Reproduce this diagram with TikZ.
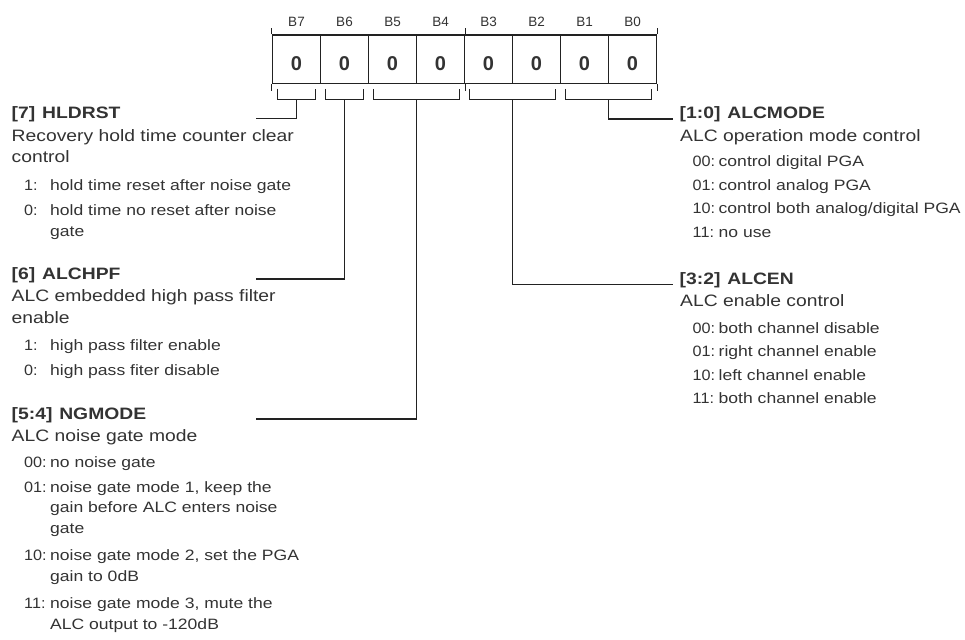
\documentclass[tikz,border=0pt]{standalone}
\usepackage{fontspec}
\newfontfamily\regf[FakeStretch=1.17]{Liberation Sans}
\newfontfamily\numf[FakeStretch=1.08]{Liberation Sans}
\newfontfamily\plainf{Liberation Sans}
\newcommand\inum[1]{\makebox[26pt][l]{\numf #1}}
\definecolor{txtc}{HTML}{333333}
\definecolor{linec}{HTML}{222222}
\begin{document}
\begin{tikzpicture}[x=1pt,y=-1pt,
  ttl/.style={anchor=base west,inner sep=0pt,text=txtc,font=\regf\bfseries\fontsize{16.5}{18}\selectfont},
  bdy/.style={anchor=base west,inner sep=0pt,text=txtc,font=\regf\fontsize{16.5}{18}\selectfont},
  itm/.style={anchor=base west,inner sep=0pt,text=txtc,font=\regf\fontsize{15}{17}\selectfont},
  bitl/.style={anchor=base,inner sep=0pt,text=txtc,font=\plainf\fontsize{13.5}{15}\selectfont},
  dig/.style={anchor=base,inner sep=0pt,text=txtc,font=\plainf\bfseries\fontsize{20}{22}\selectfont},
  cell/.style={draw=linec,line width=1.2pt,minimum width=48pt,minimum height=48.3pt,inner sep=0pt},
  conn/.style={draw=linec,line width=1.1pt},
]
\useasboundingbox[fill=white] (0,0) rectangle (965,639);
% register
\foreach \b [count=\i from 0] in {7,6,5,4,3,2,1,0}{
  \node[cell] (c\b) at ({296.5+48*\i},59.15) {};
  \node[dig] (d\b) at ({296.5+48*\i},70.5) {0};
  \node[bitl] (b\b) at ({296.5+48*\i},26.5) {B\b};
}
% ticks
\draw[conn] (c7.north west) -- ++(0,-6);
\draw[conn] (c7.south west) -- ++(0,7);
\draw[conn] (c4.north east) -- ++(0,-6);
\draw[conn] (c4.south east) -- ++(0,7);
\draw[conn] (c0.north east) -- ++(0,-6);
\draw[conn] (c0.south east) -- ++(0,7);
% brackets
\draw[conn] (277.2,89) |- (315.8,99.5) -- (315.8,89);
\draw[conn] (325.2,89) |- (363.8,99.5) -- (363.8,89);
\draw[conn] (373.2,89) |- (459.8,99.5) -- (459.8,89);
\draw[conn] (469.2,89) |- (555.8,99.5) -- (555.8,89);
\draw[conn] (565.2,89) |- (651.8,99.5) -- (651.8,89);
\coordinate (k7) at (296.5,99.5);
\coordinate (k6) at (344.5,99.5);
\coordinate (k54) at (416.5,99.5);
\coordinate (k32) at (512.5,99.5);
\coordinate (k10) at (608.5,99.5);
\coordinate (e7) at (256,118.5);
\coordinate (e6) at (256,279);
\coordinate (e54) at (256,419);

% left: HLDRST
\node[ttl] (t7) at (11.5,118.5) {[7]\kern1.5pt\ HLDRST};
\node[bdy] (t7a) at (11.5,141.5) {Recovery hold time counter clear};
\node[bdy] (t7b) at (11.5,163) {control};
\node[itm] (t7c) at (24,190) {\inum{1:}hold time reset after noise gate};
\node[itm] (t7d) at (24,215.5) {\inum{0:}hold time no reset after noise};
\node[itm] (t7e) at (50,236) {gate};
% ALCHPF
\node[ttl] (t6) at (11.5,279) {[6]\kern1.5pt\ ALCHPF};
\node[bdy] (t6a) at (11.5,301.5) {ALC embedded high pass filter};
\node[bdy] (t6b) at (11.5,323) {enable};
\node[itm] (t6c) at (24,350) {\inum{1:}high pass filter enable};
\node[itm] (t6d) at (24,375) {\inum{0:}high pass fiter disable};
% NGMODE
\node[ttl] (t54) at (11.5,419) {[5:4]\kern1.5pt\ NGMODE};
\node[bdy] (t54a) at (11.5,441) {ALC noise gate mode};
\node[itm] (t54b) at (24,467) {\inum{00:}no noise gate};
\node[itm] (t54c) at (24,492) {\inum{01:}noise gate mode 1, keep the};
\node[itm] (t54d) at (50,512.5) {gain before ALC enters noise};
\node[itm] (t54e) at (50,533) {gate};
\node[itm] (t54f) at (24,560) {\inum{10:}noise gate mode 2, set the PGA};
\node[itm] (t54g) at (50,581) {gain to 0dB};
\node[itm] (t54h) at (24,608) {\inum{11:}noise gate mode 3, mute the};
\node[itm] (t54i) at (50,629) {ALC output to -120dB};

% right: ALCMODE
\node[ttl] (alm) at (679.5,119) {[1:0]\kern1.5pt\ ALCMODE};
\node[bdy] (alma) at (680,141.5) {ALC operation mode control};
\node[itm] (almb) at (692.5,166.5) {\inum{00:}control digital PGA};
\node[itm] (almc) at (692.5,190) {\inum{01:}control analog PGA};
\node[itm] (almd) at (692.5,213.5) {\inum{10:}control both analog/digital PGA};
\node[itm] (alme) at (692.5,237) {\inum{11:}no use};
% ALCEN
\node[ttl] (alen) at (679.5,284.5) {[3:2]\kern1.5pt\ ALCEN};
\node[bdy] (alena) at (680,306.5) {ALC enable control};
\node[itm] (alenb) at (692.5,333) {\inum{00:}both channel disable};
\node[itm] (alenc) at (692.5,356.5) {\inum{01:}right channel enable};
\node[itm] (alend) at (692.5,380) {\inum{10:}left channel enable};
\node[itm] (alene) at (692.5,403.5) {\inum{11:}both channel enable};

% connectors
\draw[conn] (k7) |- (e7);
\draw[conn] (k6) |- (e6);
\draw[conn] (k54) |- (e54);
\draw[conn] (k32) |- ([xshift=-6.5pt]alen.base west);
\draw[conn] (k10) |- ([xshift=-6.5pt]alm.base west);
\end{tikzpicture}
\end{document}
